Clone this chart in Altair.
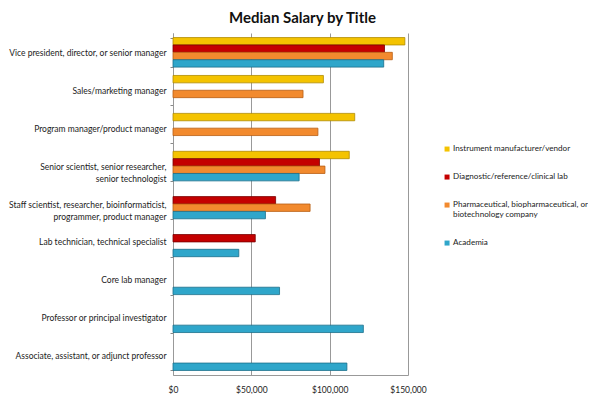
import altair as alt
import pandas as pd

titles = [
    "Vice president, director, or senior manager",
    "Sales/marketing manager",
    "Program manager/product manager",
    "Senior scientist, senior researcher,\nsenior technologist",
    "Staff scientist, researcher, bioinformaticist,\nprogrammer, product manager",
    "Lab technician, technical specialist",
    "Core lab manager",
    "Professor or principal investigator",
    "Associate, assistant, or adjunct professor",
]
series = [
    "Instrument manufacturer/vendor",
    "Diagnostic/reference/clinical lab",
    "Pharmaceutical, biopharmaceutical, or\nbiotechnology company",
    "Academia",
]
instrument = [148000, 96000, 116000, 112500, None, None, None, None, None]
diagnostic = [135000, None, None, 93500, 65500, 52500, None, None, None]
pharma = [140000, 83000, 92500, 97000, 87500, None, None, None, None]
academia = [134500, None, None, 80500, 59000, 42000, 68000, 121500, 111000]
colors = ["#F4C300", "#C40000", "#F28A2E", "#2FA6CA"]
strokes = ["#B08C00", "#7A0000", "#B85E14", "#1B6F8A"]

FONT = "Lato"

rows = []
for s, vals in zip(series, [instrument, diagnostic, pharma, academia]):
    for t, v in zip(titles, vals):
        rows.append({"title": t, "series": s, "salary": v})
df = pd.DataFrame(rows)

bars = alt.Chart(df).mark_bar(strokeWidth=0.8).encode(
    y=alt.Y("title:N", sort=titles, title=None,
            scale=alt.Scale(paddingInner=0.22, paddingOuter=0.12),
            axis=alt.Axis(labelExpr="split(datum.label, '\\n')", labelFont=FONT,
                          labelFontSize=8.5, labelColor="#222", labelPadding=4,
                          labelLimit=400,
                          tickBand="extent", ticks=True, tickColor="#888", tickSize=3,
                          domainColor="#999", grid=False, labelLineHeight=12)),
    yOffset=alt.YOffset("series:N", sort=series, scale=alt.Scale(domain=series)),
    x=alt.X("salary:Q", title=None,
            scale=alt.Scale(domain=[0, 150000], nice=False),
            axis=alt.Axis(values=[0, 50000, 100000, 150000], format="$,.0f",
                          labelFont=FONT, labelFontSize=8.5, labelColor="#222",
                          labelFlush=False,
                          grid=True, gridColor="#999", gridWidth=1, domain=True,
                          domainColor="#999", ticks=False, labelPadding=10)),
    color=alt.Color("series:N", sort=series,
                    scale=alt.Scale(domain=series, range=colors),
                    legend=alt.Legend(title=None, orient="none", legendX=270, legendY=112,
                                      labelExpr="split(datum.label, '\\n')",
                                      labelFont=FONT, labelFontSize=8.1, labelColor="#222",
                                      symbolType="square", symbolSize=25, symbolStrokeWidth=0,
                                      labelOffset=2, rowPadding=19, labelLimit=300)),
    stroke=alt.Stroke("series:N", sort=series,
                      scale=alt.Scale(domain=series, range=strokes), legend=None),
)

chart = bars.properties(
    width=235, height=342,
    title=alt.TitleParams("Median Salary by Title", font="Lato", fontSize=15,
                          fontWeight="bold", color="#111", anchor="middle", offset=3, dx=12),
    padding={"left": 0, "right": 0, "top": 3, "bottom": 0},
).configure_view(stroke=None)

chart.save("out.html", embed_options={"renderer": "svg", "actions": False})
